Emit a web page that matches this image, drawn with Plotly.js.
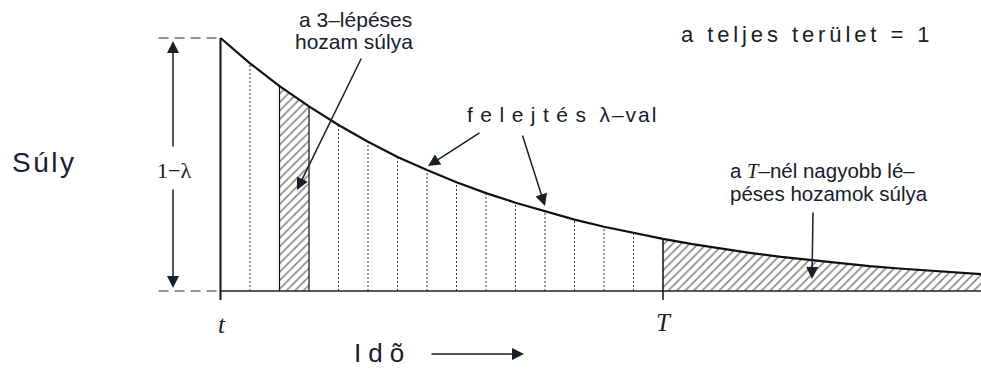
<!DOCTYPE html>
<html>
<head>
<meta charset="utf-8">
<script src="https://cdn.plot.ly/plotly-3.0.1.min.js"></script>
<style>html,body{margin:0;padding:0;background:#fff;}</style>
</head>
<body>
<div id="chart" style="width:981px;height:371px;"></div>
<script>
// ---- data ----
const steps   = [0,1,2,3,4,5,6,7,8,9,10,11,12,13,14,15,16,17,18,19,20,21,22,23,24,25,26];
const weights = [1.00,0.90,0.81,0.73,0.656,0.59,0.53,0.478,0.43,0.387,0.349,0.314,0.282,0.254,
                 0.229,0.206,0.185,0.167,0.150,0.135,0.122,0.109,0.098,0.089,0.080,0.072,0.065];
const hatchStep = 2;      // the 3-step return's slice: from step 2 to step 3
const horizonStep = 15;   // T
const tickLabels = ['t', 'T'];

// ---- helpers ----
const W = 981, H = 371;
const px = x => x / W, py = y => 1 - y / H;
const INK = '#15202b', LINE = '#111';
const SANS = 'Liberation Sans, Arial, sans-serif';
const SERIF = 'Liberation Serif, Times New Roman, serif';
const HATCH = {shape: '/', size: 6, solidity: 0.25, fgcolor: '#000', bgcolor: 'white', fillmode: 'overlay'};

const traces = [];

// dotted step lines (solid for the hatched slice edges)
const dotX = [], dotY = [];
for (let i = 1; i < horizonStep; i++) {
  if (i === hatchStep || i === hatchStep + 1) continue;
  dotX.push(steps[i], steps[i], null);
  dotY.push(0, weights[i], null);
}
traces.push({x: dotX, y: dotY, mode: 'lines', line: {color: '#333', width: 1, dash: '2px,2px'}, hoverinfo: 'skip'});

// hatched slice for the 3-step return
const hx = [steps[hatchStep], steps[hatchStep], steps[hatchStep + 1], steps[hatchStep + 1]];
const hy = [0, weights[hatchStep], weights[hatchStep + 1], 0];
traces.push({x: hx, y: hy, mode: 'lines', fill: 'toself', fillcolor: 'rgba(0,0,0,0)',
  fillpattern: HATCH, line: {color: LINE, width: 1.2}, hoverinfo: 'skip'});

// hatched tail beyond T
const tx = [steps[horizonStep]].concat(steps.slice(horizonStep), [steps[steps.length - 1]]);
const ty = [0].concat(weights.slice(horizonStep), [0]);
traces.push({x: tx, y: ty, mode: 'lines', fill: 'toself', fillcolor: 'rgba(0,0,0,0)',
  fillpattern: HATCH, line: {color: LINE, width: 0}, hoverinfo: 'skip'});

// baseline
traces.push({x: [steps[0], steps[steps.length - 1]], y: [0, 0], mode: 'lines',
  line: {color: '#222', width: 1.5}, hoverinfo: 'skip'});

// vertical at t and at T
traces.push({x: [steps[0], steps[0]], y: [-0.036, weights[0]], mode: 'lines',
  line: {color: LINE, width: 2}, hoverinfo: 'skip'});
traces.push({x: [steps[horizonStep], steps[horizonStep]], y: [-0.036, weights[horizonStep]], mode: 'lines',
  line: {color: LINE, width: 1.5}, hoverinfo: 'skip'});

// dashed guides on the left
traces.push({x: [-2.1, steps[0]], y: [weights[0], weights[0]], mode: 'lines',
  line: {color: '#222', width: 1, dash: '10px,6px'}, hoverinfo: 'skip'});
traces.push({x: [-2.1, steps[0]], y: [0, 0], mode: 'lines',
  line: {color: '#222', width: 1, dash: '10px,6px'}, hoverinfo: 'skip'});

// weight curve
traces.push({x: steps, y: weights, mode: 'lines', line: {color: LINE, width: 2.2}, hoverinfo: 'skip'});

// ---- annotations ----
const ann = [];
function txt(x, y, text, size, opts) {
  ann.push(Object.assign({xref: 'paper', yref: 'paper', x: px(x), y: py(y), text: text,
    showarrow: false, xanchor: 'center', yanchor: 'middle',
    font: {family: SANS, size: size, color: INK}}, opts || {}));
}
function arrow(hx, hy, tx, ty, opts) {
  ann.push(Object.assign({xref: 'paper', yref: 'paper', x: px(hx), y: py(hy), text: '',
    showarrow: true, ax: tx - hx, ay: ty - hy, arrowhead: 2, arrowsize: 1.6, arrowwidth: 1.5,
    arrowcolor: INK, standoff: 0, startstandoff: 0}, opts || {}));
}

txt(10, 162, '<span style="letter-spacing:2.5px">Súly</span>', 28, {xanchor: 'left'});
txt(174, 170, '1−λ', 22, {font: {family: SERIF, size: 22, color: INK}});
arrow(173, 41, 173, 148);
arrow(173, 288, 173, 188);

txt(222, 324, '<i>' + tickLabels[0] + '</i>', 25, {font: {family: SERIF, size: 25, color: INK}});
txt(664, 322, '<i>' + tickLabels[1] + '</i>', 25, {font: {family: SERIF, size: 25, color: INK}});

txt(352, 353, '<span style="letter-spacing:7px">Idõ</span>', 26, {xanchor: 'left'});
arrow(524, 354, 430, 354);

txt(355, 19, 'a 3–lépéses', 21);
txt(354, 41, 'hozam súlya', 21);
arrow(297, 190, 362, 57);

txt(679, 34, '<span style="letter-spacing:3.9px">a teljes terület = 1</span>', 22, {xanchor: 'left'});

txt(465, 115, '<span style="letter-spacing:7.5px">felejtés</span> <span style="letter-spacing:2px">λ–val</span>', 21, {xanchor: 'left'});
arrow(428, 166, 481, 132);
arrow(545, 206, 522, 134);

txt(728, 171, 'a <span style="font-family:Liberation Serif"><i>T</i></span>–nél nagyobb lé–', 20.5, {xanchor: 'left'});
txt(728, 193, 'péses hozamok súlya', 20.5, {xanchor: 'left'});
arrow(812, 279, 813, 211);

// ---- layout ----
const step = 29.5, x0 = 220.5, base = 291, unit = 253;
const layout = {
  width: W, height: H,
  margin: {l: 0, r: 0, t: 0, b: 0, pad: 0},
  paper_bgcolor: 'white', plot_bgcolor: 'white',
  showlegend: false,
  xaxis: {range: [-x0 / step, (W - x0) / step], visible: false, fixedrange: true},
  yaxis: {range: [(base - H) / unit, base / unit], visible: false, fixedrange: true},
  annotations: ann
};
Plotly.newPlot('chart', traces, layout, {staticPlot: true, displayModeBar: false});
</script>
</body>
</html>
